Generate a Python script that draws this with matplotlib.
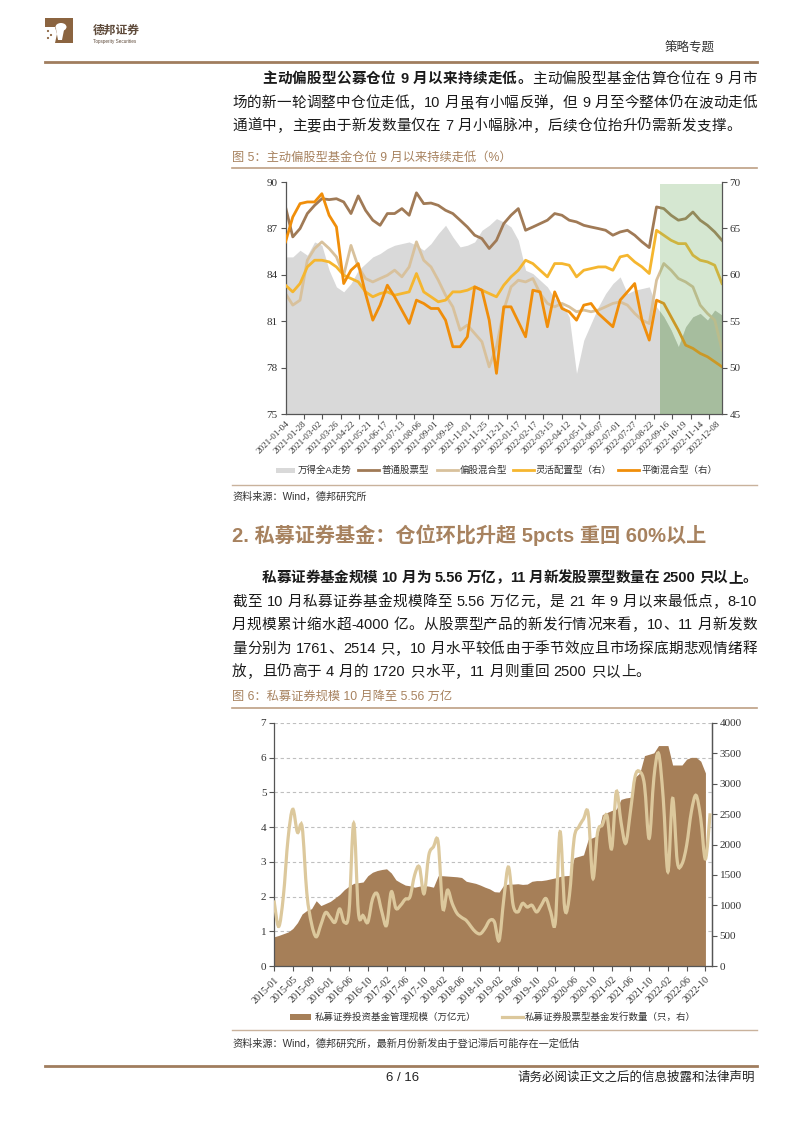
import re
import numpy as np
import pandas as pd
import matplotlib
matplotlib.use('Agg')
import matplotlib.pyplot as plt
from matplotlib.patches import Rectangle, Polygon, PathPatch, Ellipse
from matplotlib.path import Path
from matplotlib.lines import Line2D

"""
Data: figure 5 (fund positions, sampled across 2021-01-04 .. 2022-12-16)
"""
fig5_dates = ['2021-01-04', '2021-01-28', '2021-03-02', '2021-03-26', '2021-04-22', '2021-05-21',
              '2021-06-17', '2021-07-13', '2021-08-06', '2021-09-01', '2021-09-29', '2021-11-01',
              '2021-11-25', '2021-12-21', '2022-01-17', '2022-02-17', '2022-03-15', '2022-04-12',
              '2022-05-11', '2022-06-07', '2022-07-01', '2022-07-27', '2022-08-22', '2022-09-16',
              '2022-10-19', '2022-11-14', '2022-12-08']

wind_a = [5780, 5780, 5844, 5796, 5924, 5892, 5652, 5492, 5444, 5524, 5652, 5716, 5780, 5812, 5860,
          5892, 5908, 5924, 5892, 5844, 5908, 6004, 6084, 5972, 5876, 5892, 5924, 6036, 6084, 6148,
          6116, 6068, 5940, 5652, 5620, 5556, 5492, 5380, 5332, 5204, 4660, 4980, 5140, 5300, 5428,
          5524, 5588, 5428, 5460, 5476, 5492, 5300, 5204, 5076, 4916, 5108, 5204, 5236, 5172, 5268, 5220]

stock_fund = [88.39, 86.45, 86.99, 87.96, 88.49, 88.92, 88.86, 88.92, 88.71, 87.96, 89.10, 88.17,
              87.53, 87.20, 87.96, 87.96, 88.28, 87.85, 89.30, 88.60, 88.64, 88.49, 88.17, 87.96,
              87.53, 87.09, 86.56, 86.34, 85.70, 86.23, 87.31, 87.85, 88.28, 86.88, 87.09, 87.31,
              87.53, 87.96, 87.85, 87.53, 87.42, 87.20, 87.09, 86.99, 86.88, 86.56, 86.77, 86.88,
              86.56, 86.13, 85.76, 88.39, 88.28, 87.85, 87.53, 87.63, 88.06, 87.53, 87.20, 86.77, 86.23]

equity_mixed = [82.79, 82.04, 82.36, 84.94, 85.70, 86.13, 85.70, 85.16, 83.97, 85.90, 84.51, 83.76,
                83.54, 83.76, 83.97, 84.30, 83.87, 84.51, 86.13, 84.94, 84.51, 83.65, 82.68, 81.93,
                80.42, 80.75, 80.21, 79.67, 78.05, 79.35, 81.72, 83.22, 83.65, 83.54, 83.76, 82.79,
                82.15, 81.93, 82.15, 81.93, 81.61, 81.72, 81.61, 81.72, 81.93, 82.15, 82.25, 82.04,
                81.50, 81.07, 80.85, 83.65, 84.73, 84.30, 83.76, 83.54, 83.22, 82.04, 81.50, 81.07, 79.13]

flexible = [58.88, 58.16, 59.06, 60.85, 61.57, 61.57, 61.39, 60.85, 59.96, 59.60, 59.24, 58.16,
            57.63, 57.98, 58.16, 57.80, 57.98, 58.16, 60.14, 58.16, 57.63, 57.09, 57.27, 58.16,
            58.16, 58.34, 58.70, 58.34, 57.98, 57.63, 58.88, 59.78, 60.49, 61.57, 61.21, 60.49,
            59.78, 61.21, 61.21, 61.03, 59.78, 60.49, 60.67, 60.85, 60.85, 60.49, 61.93, 62.11,
            61.39, 60.85, 60.14, 64.80, 64.26, 63.72, 63.36, 63.36, 62.11, 61.57, 61.39, 61.03, 59.06]

balanced = [63.54, 66.23, 67.67, 67.85, 67.85, 68.74, 66.41, 65.16, 59.06, 60.49, 61.21, 57.98,
            55.11, 56.73, 58.88, 57.63, 56.19, 54.76, 57.27, 56.91, 56.37, 56.37, 55.11, 52.25,
            52.25, 53.32, 58.70, 58.34, 55.11, 49.38, 56.55, 56.55, 54.94, 53.32, 58.34, 58.16,
            54.40, 58.16, 56.37, 56.01, 55.11, 56.73, 56.91, 55.83, 55.11, 54.40, 57.27, 58.16,
            59.06, 55.11, 52.96, 57.27, 56.91, 55.47, 54.04, 52.42, 52.07, 51.53, 51.17, 50.63, 50.09]

"""
Data: figure 6 (private securities funds, monthly)
"""
months = [p.strftime('%Y-%m') for p in pd.period_range('2015-01', '2022-11', freq='M')
          if p.strftime('%Y-%m') != '2016-02']

aum = [0.84, 0.88, 0.93, 0.98, 1.08, 1.25, 1.50, 1.60, 1.65, 1.88, 1.74, 1.80, 1.86, 1.96, 2.06,
       2.20, 2.30, 2.38, 2.40, 2.42, 2.60, 2.70, 2.75, 2.78, 2.80, 2.68, 2.48, 2.40, 2.33, 2.31,
       2.27, 2.30, 2.32, 2.30, 2.27, 2.60, 2.60, 2.59, 2.58, 2.57, 2.55, 2.44, 2.41, 2.38, 2.33,
       2.27, 2.22, 2.14, 2.13, 2.33, 2.36, 2.36, 2.37, 2.35, 2.36, 2.44, 2.46, 2.46, 2.48, 2.51,
       2.54, 2.58, 2.60, 2.61, 3.12, 3.16, 3.20, 3.65, 3.70, 3.76, 4.36, 4.42, 4.48, 4.52, 4.80,
       4.84, 4.86, 5.44, 5.56, 6.06, 6.10, 6.14, 6.35, 6.35, 6.35, 5.79, 5.79, 5.79, 5.96, 6.01,
       6.01, 5.90, 5.56]

new_funds = [1080, 650, 1150, 2100, 2580, 2200, 2290, 1200, 700, 480, 680, 880, 800, 720, 940,
             720, 900, 2350, 880, 830, 720, 1100, 1190, 890, 670, 1220, 950, 1000, 1100, 1140,
             1500, 1630, 1190, 1820, 1960, 2040, 950, 1250, 1030, 870, 800, 750, 650, 560, 530,
             620, 750, 725, 420, 1100, 1630, 1000, 890, 1030, 970, 1000, 890, 1000, 1110, 890,
             725, 2210, 945, 1165, 2100, 2290, 2420, 2510, 1440, 2200, 2320, 2480, 1930, 2870,
             2370, 2020, 2540, 3120, 3200, 2980, 2100, 3090, 3500, 2760, 1550, 2760, 1720, 1680,
             1990, 2540, 2810, 2430, 1761, 2514]

W, H = 802, 1133
BODY = ['Liberation Sans', 'Noto Sans CJK SC']
SERIF = ['Liberation Serif', 'Noto Sans CJK SC']
BROWN = '#A7825F'
plt.rcParams['font.family'] = BODY

fig = plt.figure(figsize=(W / 100, H / 100), dpi=100)
renderer = fig.canvas.get_renderer()


def fx(px):
    return px / W


def fy(py):
    return 1 - py / H


def hline(y, x0, x1, color, lw):
    fig.add_artist(Line2D([fx(x0), fx(x1)], [fy(y), fy(y)], color=color, lw=lw))


def put_line(y, x0, x1, parts, size=10.5, justify=True, color='#1a1a1a'):
    """place one line of text, spreading the glyphs to fill x0..x1"""
    toks = []
    for s, w in parts:
        for tok in re.findall(r'[A-Za-z0-9.\-%]+| |.', s):
            toks.append((tok, w))
    px = size * 100 / 72
    objs, widths = [], []
    for tok, w in toks:
        if tok == ' ':
            objs.append(None)
            widths.append(px * 0.28)
        else:
            t = fig.text(0, fy(y), tok, fontsize=size, weight=w, va='baseline', color=color)
            objs.append(t)
            widths.append(t.get_window_extent(renderer).width)
    gap = (x1 - x0 - sum(widths)) / (len(toks) - 1) if justify else px * 0.02
    x = x0
    for t, wd in zip(objs, widths):
        if t is not None:
            t.set_x(fx(x))
        x += wd + gap


# ---------------- header ----------------
fig.add_artist(Rectangle((fx(45), fy(43)), 28 / W, 25 / H, color='#8B6440', lw=0))
fig.add_artist(Polygon([(fx(45), fy(27)), (fx(55), fy(27)), (fx(57), fy(34)), (fx(55), fy(43)),
                        (fx(45), fy(43))], closed=True, color='white', lw=0))
fig.add_artist(Ellipse((fx(61), fy(27)), 11 / W, 8 / H, color='white', lw=0))
fig.add_artist(Polygon([(fx(56), fy(29)), (fx(64), fy(30)), (fx(62), fy(40)), (fx(58), fy(40))],
                       closed=True, color='white', lw=0))
for cx, cy in [(48, 31), (51, 35), (48, 38)]:
    fig.add_artist(Ellipse((fx(cx), fy(cy)), 2.2 / W, 2.2 / H, color='#8B6440', lw=0))
fig.text(fx(93), fy(31), '德邦证券', fontsize=8.5, weight='bold', color='#5E4A3A', va='center')
fig.text(fx(93), fy(41), 'Topsperity Securities', fontsize=3.3, color='#5E4A3A', va='center')
fig.text(fx(715), fy(48), '策略专题', fontsize=9, color='#333333', va='center', ha='right')
hline(62, 45, 757, '#A07D5E', 2.0)

# ---------------- paragraph 1 ----------------
put_line(83, 262, 757, [('主动偏股型公募仓位 9 月以来持续走低。', 'bold'),
                        ('主动偏股型基金估算仓位在 9 月市', 'normal')])
put_line(107, 232, 757, [('场的新一轮调整中仓位走低，10 月虽有小幅反弹，但 9 月至今整体仍在波动走低', 'normal')])
put_line(130, 232, 757, [('通道中，主要由于新发数量仅在 7 月小幅脉冲，后续仓位抬升仍需新发支撑。', 'normal')],
         justify=False)

fig.text(fx(232), fy(158), '图 5：主动偏股型基金仓位 9 月以来持续走低（%）', fontsize=8.8,
         color=BROWN, va='center')
hline(168, 232, 757, '#BDA084', 1.2)

# ---------------- chart 1 ----------------
x1 = np.linspace(0, 474, len(stock_fund))
r1 = [fx(285.5), fy(414), (722 - 285.5) / W, (414 - 182) / H]
shade_from = 407

axg = fig.add_axes(r1)
axg.fill_between(x1, wind_a, 4270, color='#D9D9D9', lw=0)
dark = axg.fill_between(x1, wind_a, 4270, color='#BCC3B6', lw=0)
dark.set_clip_path(Rectangle((shade_from, 4270), 474 - shade_from, 2230, transform=axg.transData))
axg.set_xlim(0, 474)
axg.set_ylim(4270, 6500)
axg.axis('off')

axl = fig.add_axes(r1)
axl.patch.set_visible(False)
axl.plot(x1, stock_fund, color='#A07A56', lw=2.0)
axl.plot(x1, equity_mixed, color='#D8C19C', lw=2.0)
axl.set_xlim(0, 474)
axl.set_ylim(75, 90)
axl.set_yticks(np.arange(75, 91, 3))
axl.set_xticks(np.arange(0, 469, 18))
axl.set_xticklabels(fig5_dates, rotation=45, ha='right', va='top', rotation_mode='anchor',
                    fontsize=6.6, family=SERIF, color='#333333')
axl.set_xticks(np.arange(0, 475, 20), minor=True)
axl.tick_params(axis='x', which='major', length=0, pad=4)
axl.tick_params(axis='x', which='minor', length=3.5, width=0.8, color='#555555')
axl.tick_params(axis='y', length=3.5, width=0.8, color='#555555', labelsize=8, pad=2)
plt.setp(axl.get_yticklabels(), family=SERIF, color='#333333')
for s in ['top', 'right']:
    axl.spines[s].set_visible(False)
for s in ['left', 'bottom']:
    axl.spines[s].set_color('#555555')
    axl.spines[s].set_linewidth(0.9)

axr = axl.twinx()
axr.plot(x1, flexible, color='#F5B62F', lw=2.0)
axr.plot(x1, balanced, color='#F08E0A', lw=2.0)
axr.set_ylim(45, 70)
axr.set_yticks(np.arange(45, 71, 5))
axr.tick_params(axis='y', length=3.5, width=0.8, color='#555555', labelsize=8, pad=2)
plt.setp(axr.get_yticklabels(), family=SERIF, color='#333333')
for s in ['top', 'left', 'bottom']:
    axr.spines[s].set_visible(False)
axr.spines['right'].set_color('#555555')
axr.spines['right'].set_linewidth(0.9)

axs = fig.add_axes(r1)
axs.axis('off')
axs.set_xlim(0, 474)
axs.set_ylim(0, 1)
axs.axvspan(shade_from, 474, ymin=0, ymax=0.99, color='#76B269', alpha=0.3, lw=0)

# legend 1
fig.add_artist(Rectangle((fx(276), fy(472.5)), 19 / W, 5 / H, color='#D9D9D9', lw=0))
fig.text(fx(298), fy(470), '万得全A走势', fontsize=6.8, va='center', color='#333333')
for xa, col, lab in [(358, '#A07A56', '普通股票型'), (437, '#D8C19C', '偏股混合型'),
                     (513, '#F5B62F', '灵活配置型（右）'), (618, '#F08E0A', '平衡混合型（右）')]:
    fig.add_artist(Line2D([fx(xa), fx(xa + 21)], [fy(470), fy(470)], color=col, lw=2.0))
    fig.text(fx(xa + 23), fy(470), lab, fontsize=6.8, va='center', color='#333333')

hline(485, 232, 757, '#C9B29C', 1.0)
fig.text(fx(232), fy(497), '资料来源：Wind，德邦研究所', fontsize=7.3, va='center', color='#333333')

# ---------------- section 2 ----------------
fig.text(fx(232), fy(535), '2. 私募证券基金：仓位环比升超 5pcts 重回 60%以上', fontsize=14.5,
         weight='bold', color=BROWN, va='center')

put_line(582, 262, 757, [('私募证券基金规模 10 月为 5.56 万亿，11 月新发股票型数量在 2500 只以上。', 'bold')])
put_line(606, 232, 757, [('截至 10 月私募证券基金规模降至 5.56 万亿元，是 21 年 9 月以来最低点，8-10', 'normal')])
put_line(629, 232, 757, [('月规模累计缩水超-4000 亿。从股票型产品的新发行情况来看，10、11 月新发数', 'normal')])
put_line(653, 232, 757, [('量分别为 1761、2514 只，10 月水平较低由于季节效应且市场探底期悲观情绪释', 'normal')])
put_line(676, 232, 757, [('放，且仍高于 4 月的 1720 只水平，11 月则重回 2500 只以上。', 'normal')], justify=False)

fig.text(fx(232), fy(697), '图 6：私募证券规模 10 月降至 5.56 万亿', fontsize=8.8, color=BROWN, va='center')
hline(708, 232, 757, '#BDA084', 1.2)

# ---------------- chart 2 ----------------
r2 = [fx(274), fy(966), (712 - 274) / W, (966 - 723) / H]
idx = np.arange(len(months))

ax2 = fig.add_axes(r2)
ax2.fill_between(idx[:len(aum)], aum, 0, color='#A67F58', lw=0, zorder=2)
ax2.set_xlim(0, 93.4)
ax2.set_ylim(0, 7)
ax2.set_yticks(np.arange(0, 8, 1))
ax2.yaxis.grid(True, ls=(0, (3, 2.5)), color='#BFBFBF', lw=0.8)
ax2.set_axisbelow(True)
ax2.set_xticks(idx[:93:4])
ax2.set_xticklabels(months[:93:4], rotation=45, ha='right', va='top', rotation_mode='anchor',
                    fontsize=7.2, family=SERIF, color='#333333')
ax2.tick_params(axis='x', length=3.5, width=0.8, color='#555555', pad=3)
ax2.tick_params(axis='y', length=3.5, width=0.8, color='#555555', labelsize=8, pad=2)
plt.setp(ax2.get_yticklabels(), family=SERIF, color='#333333')
ax2.spines['top'].set_visible(False)
for s in ['left', 'bottom', 'right']:
    ax2.spines[s].set_color('#555555')
    ax2.spines[s].set_linewidth(0.9)

ax2r = ax2.twinx()
# smooth line drawn as cubic Bezier through the monthly values
pts = np.column_stack([idx, new_funds]).astype(float)
ext = np.vstack([pts[0], pts, pts[-1]])
verts = [tuple(pts[0])]
codes = [Path.MOVETO]
for i in range(len(pts) - 1):
    p0, p1, p2, p3 = ext[i], ext[i + 1], ext[i + 2], ext[i + 3]
    verts += [tuple(p1 + (p2 - p0) / 6), tuple(p2 - (p3 - p1) / 6), tuple(p2)]
    codes += [Path.CURVE4] * 3
ax2r.add_patch(PathPatch(Path(verts, codes), fill=False, edgecolor='#DCC89C', lw=2.3, zorder=3))
ax2r.set_ylim(0, 4000)
ax2r.set_yticks(np.arange(0, 4001, 500))
ax2r.tick_params(axis='y', length=3.5, width=0.8, color='#555555', labelsize=8, pad=2)
plt.setp(ax2r.get_yticklabels(), family=SERIF, color='#333333')
for s in ['top', 'left', 'bottom']:
    ax2r.spines[s].set_visible(False)
ax2r.spines['right'].set_color('#555555')
ax2r.spines['right'].set_linewidth(0.9)

# legend 2
fig.add_artist(Rectangle((fx(290), fy(1020)), 21 / W, 6 / H, color='#A67F58', lw=0))
fig.text(fx(315), fy(1017), '私募证券投资基金管理规模（万亿元）', fontsize=6.8, va='center', color='#333333')
fig.add_artist(Line2D([fx(502), fx(523)], [fy(1017), fy(1017)], color='#DCC89C', lw=2.3))
fig.text(fx(525), fy(1017), '私募证券股票型基金发行数量（只，右）', fontsize=6.8, va='center', color='#333333')

hline(1030, 232, 757, '#C9B29C', 1.0)
fig.text(fx(232), fy(1044), '资料来源：Wind，德邦研究所，最新月份新发由于登记滞后可能存在一定低估',
         fontsize=7.3, va='center', color='#333333')

# ---------------- footer ----------------
hline(1066, 45, 757, '#A07D5E', 2.0)
fig.text(fx(403), fy(1078), '6 / 16', fontsize=9.5, va='center', ha='center', color='#222222')
fig.text(fx(755), fy(1078), '请务必阅读正文之后的信息披露和法律声明', fontsize=9, va='center',
         ha='right', color='#222222')

fig.savefig('out.png', dpi=100)
